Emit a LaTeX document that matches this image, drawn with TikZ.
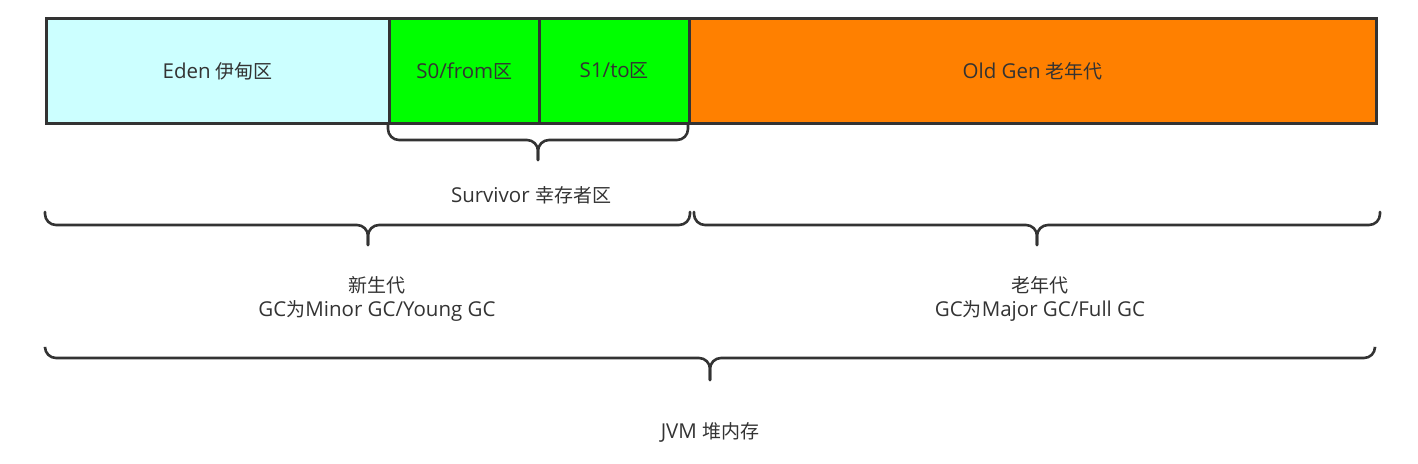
\documentclass[tikz,border=0pt]{standalone}
\usepackage{fontspec}
\setmainfont{Open Sans}
\newfontfamily\cjkf{Noto Sans CJK SC}
\newcommand\zh[1]{{\cjkf\fontsize{19}{24}\selectfont #1}}
\definecolor{edge}{HTML}{333333}
\definecolor{edenc}{HTML}{CCFFFF}
\definecolor{survc}{HTML}{00FF00}
\definecolor{oldc}{HTML}{FF8000}
\begin{document}
\begin{tikzpicture}[x=1pt,y=-1pt,
  area/.style={draw=edge,line width=2.6pt,minimum height=105pt,inner sep=0pt,anchor=north west,text=edge,font=\fontsize{20.5}{24}\selectfont},
  lbl/.style={text=edge,font=\fontsize{20.5}{24}\selectfont,align=center,inner sep=0pt},
  bracestyle/.style={draw=edge,line width=2.6pt,rounded corners=11pt,line cap=round}]
\useasboundingbox (0,0) rectangle (1418,463);
\node[area,fill=edenc,minimum width=343pt] (eden) at (45,17) {Eden \zh{伊甸区}};
\node[area,fill=survc,minimum width=150pt] (s0) at (388,17) {S0/from\zh{区}};
\node[area,fill=survc,minimum width=150pt] (s1) at (538,17) {S1/to\zh{区}};
\node[area,fill=oldc,minimum width=687pt] (old) at (688,17) {Old Gen \zh{老年代}};
% brace 1
\draw[bracestyle] (388,124) -- (388,140) -- (538,140) -- (538,160);
\draw[bracestyle] (688,124) -- (688,140) -- (538,140) -- (538,160);
\node[lbl] (surv) at (531,195) {Survivor \zh{幸存者区}};
% brace 2
\draw[bracestyle] (45,212) -- (45,225) -- (368,225) -- (368,245);
\draw[bracestyle] (690,212) -- (690,225) -- (368,225) -- (368,245);
% brace 3
\draw[bracestyle] (694,212) -- (694,225) -- (1037,225) -- (1037,245);
\draw[bracestyle] (1380,212) -- (1380,225) -- (1037,225) -- (1037,245);
\node[lbl] (young) at (377,299) {\zh{新生代}\\GC\zh{为}Minor GC/Young GC};
\node[lbl] (tenured) at (1040,299) {\zh{老年代}\\GC\zh{为}Major GC/Full GC};
% brace 4
\draw[bracestyle] (45,348) -- (45,358) -- (710,358) -- (710,380);
\draw[bracestyle] (1375,348) -- (1375,358) -- (710,358) -- (710,380);
\node[lbl] (jvm) at (710,432) {JVM \zh{堆内存}};
\end{tikzpicture}
\end{document}
